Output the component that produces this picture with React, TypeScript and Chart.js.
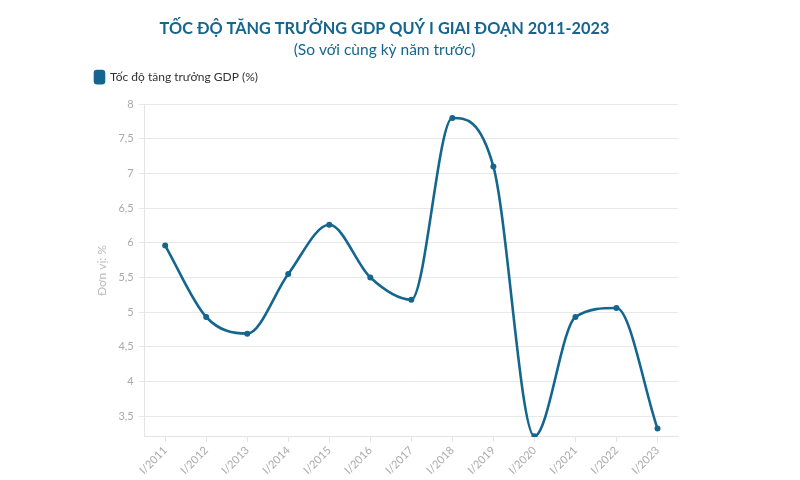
import React, { useEffect, useRef } from "react";
import { Chart, registerables } from "chart.js";

Chart.register(...registerables);

const categories = ["I/2011", "I/2012", "I/2013", "I/2014", "I/2015", "I/2016", "I/2017", "I/2018", "I/2019", "I/2020", "I/2021", "I/2022", "I/2023"];
const gdpGrowth = [5.96, 4.93, 4.69, 5.55, 6.26, 5.5, 5.18, 7.8, 7.1, 3.21, 4.93, 5.06, 3.32];
const seriesLabel = "Tốc độ tăng trưởng GDP (%)";
const titleText = "TỐC ĐỘ TĂNG TRƯỞNG GDP QUÝ I GIAI ĐOẠN 2011-2023";
const subtitleText = "(So với cùng kỳ năm trước)";
const yAxisTitle = "Đơn vị: %";

const MAIN = "#14668f";
const FONT = "Lato, 'Open Sans', sans-serif";

const legendGap = {
  id: "legendGap",
  beforeInit(chart: any) {
    const orig = chart.legend.fit;
    chart.legend.fit = function () {
      orig.bind(this)();
      this.height += 11;
    };
  },
};

export default function App() {
  const ref = useRef<HTMLCanvasElement | null>(null);
  useEffect(() => {
    if (!ref.current) return;
    const chart = new Chart(ref.current, {
      type: "line",
      data: {
        labels: categories,
        datasets: [
          {
            label: seriesLabel,
            data: gdpGrowth,
            borderColor: MAIN,
            backgroundColor: MAIN,
            borderWidth: 2.6,
            pointRadius: 3,
            pointBorderWidth: 0,
            pointBackgroundColor: MAIN,
            cubicInterpolationMode: "monotone",
            fill: false,
          },
        ],
      },
      options: {
        responsive: false,
        animation: false,
        layout: { padding: { left: 91, right: 122, top: 9, bottom: 1 } },
        plugins: {
          title: {
            display: true,
            text: titleText,
            color: MAIN,
            font: { family: FONT, size: 16.3, weight: "bold" },
            padding: { top: 10, bottom: 2 },
          },
          subtitle: {
            display: true,
            text: subtitleText,
            color: MAIN,
            font: { family: FONT, size: 15.5 },
            padding: { bottom: 8 },
          },
          legend: {
            display: true,
            align: "start",
            labels: {
              boxWidth: 9,
              boxHeight: 12,
              useBorderRadius: true,
              borderRadius: 2,
              color: "#333",
              font: { family: FONT, size: 12 },
              padding: 4,
            },
          },
          tooltip: { enabled: false },
        },
        scales: {
          x: {
            offset: true,
            grid: { display: true, drawOnChartArea: false, drawTicks: true, tickLength: 5, color: "#e4e4e4" },
            border: { color: "#e4e4e4" },
            ticks: {
              maxRotation: 45,
              minRotation: 45,
              color: "#aaa",
              font: { family: FONT, size: 11 },
              padding: 2,
            },
          },
          y: {
            min: 3.2,
            max: 8,
            afterBuildTicks: (scale: any) => {
              scale.ticks = scale.ticks.filter((t: any) => Math.abs(t.value * 2 - Math.round(t.value * 2)) < 1e-6);
            },
            ticks: {
              stepSize: 0.5,
              color: "#aaa",
              font: { family: FONT, size: 11 },
              padding: 5,
              callback: (v: any) => String(v).replace(".", ","),
            },
            grid: { color: "#e8e8e8", tickLength: 6 },
            border: { color: "#e4e4e4" },
            title: {
              display: true,
              text: yAxisTitle,
              color: "#bbb",
              font: { family: FONT, size: 12 },
              padding: 4,
            },
          },
        },
      },
      plugins: [legendGap],
    });
    return () => chart.destroy();
  }, []);
  return (
    <div style={{ position: "fixed", left: 0, top: 0, width: 800, height: 480, background: "#fff" }}>
      <canvas ref={ref} width={800} height={480} />
    </div>
  );
}
